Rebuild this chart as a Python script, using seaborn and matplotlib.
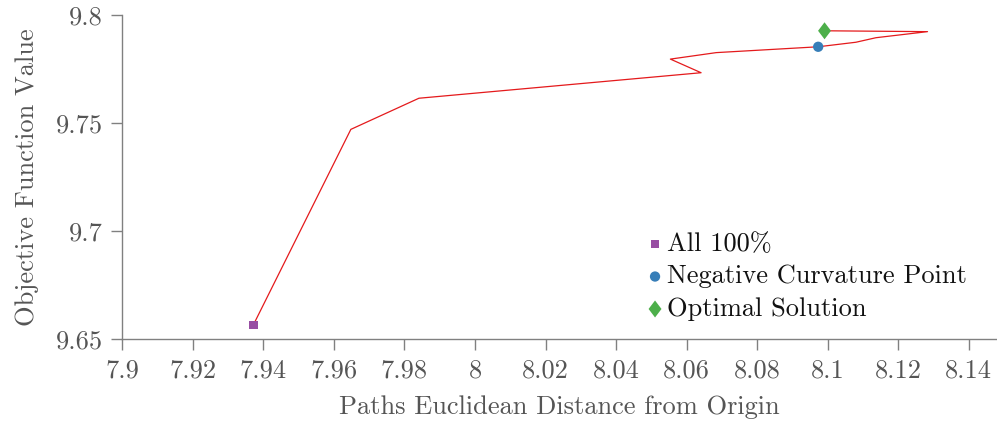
import matplotlib
matplotlib.use("Agg")
import matplotlib.pyplot as plt
from matplotlib.path import Path
import seaborn as sns
import pandas as pd

# Path data (Euclidean distance vs objective value)
path_dist = [7.9372, 7.9648, 7.9841, 8.0641, 8.0554, 8.0684, 8.0973, 8.1080, 8.1137, 8.1283, 8.0991]
path_obj = [9.6568, 9.7471, 9.7615, 9.7733, 9.7796, 9.7826, 9.7853, 9.7874, 9.7895, 9.7923, 9.7927]

# Highlighted points
point_labels = ["All 100%", "Negative Curvature Point", "Optimal Solution"]
point_dist = [7.9372, 8.0973, 8.0991]
point_obj = [9.6568, 9.7853, 9.7927]

xticks = [7.9, 7.92, 7.94, 7.96, 7.98, 8.0, 8.02, 8.04, 8.06, 8.08, 8.1, 8.12, 8.14]
xtick_labels = ["7.9", "7.92", "7.94", "7.96", "7.98", "8", "8.02", "8.04", "8.06", "8.08", "8.1", "8.12", "8.14"]
yticks = [9.65, 9.7, 9.75, 9.8]
ytick_labels = ["9.65", "9.7", "9.75", "9.8"]

sns.set_theme(style="ticks")
plt.rcParams["font.family"] = ["cmr10", "DejaVu Sans"]
plt.rcParams["axes.unicode_minus"] = False

gray = "#808080"
txt = "#555555"
fs = 19

fig = plt.figure(figsize=(9.97, 4.22), dpi=100)
ax = fig.add_axes([122.3 / 997, 1 - 339.3 / 422, (997 - 122.3) / 997, (339.3 - 15) / 422])

path_df = pd.DataFrame({"dist": path_dist, "obj": path_obj})
sns.lineplot(data=path_df, x="dist", y="obj", sort=False, estimator=None, color="#e41a1c",
             linewidth=0.9, ax=ax, zorder=2)

diamond = Path([(0, 1), (0.76, 0), (0, -1), (-0.76, 0), (0, 1)],
               [Path.MOVETO, Path.LINETO, Path.LINETO, Path.LINETO, Path.CLOSEPOLY])
colors = ["#984ea3", "#377eb8", "#4daf4a"]
markers = ["s", "o", diamond]
sizes = [34, 55, 150]
for lab, xd, yd, c, m, s in zip(point_labels, point_dist, point_obj, colors, markers, sizes):
    ax.scatter([xd], [yd], marker=m, color=c, s=s, edgecolors="none", label=lab, zorder=3)

ax.set_xlim(7.9, 8.148)
ax.set_ylim(9.65, 9.8)
ax.set_xticks(xticks)
ax.set_xticklabels(xtick_labels)
ax.set_yticks(yticks)
ax.set_yticklabels(ytick_labels)

for side in ["top", "right"]:
    ax.spines[side].set_visible(False)
for side in ["left", "bottom"]:
    ax.spines[side].set_color(gray)
    ax.spines[side].set_linewidth(1.0)
ax.tick_params(axis="both", colors=gray, labelcolor=txt, labelsize=fs, length=8, width=1.0, pad=6)

ax.set_xlabel("Paths Euclidean Distance from Origin", fontsize=fs, color=txt, labelpad=9)
ax.set_ylabel("Objective Function Value", fontsize=fs, color=txt, labelpad=12)

leg = ax.legend(loc="upper left", bbox_to_anchor=(0.6, 0.33), frameon=False, fontsize=fs,
                handletextpad=0.15, handlelength=0.6, labelspacing=0.33, borderaxespad=0,
                borderpad=0, scatterpoints=1)
for t in leg.get_texts():
    t.set_color("#111111")

fig.savefig("out.png", dpi=100)
